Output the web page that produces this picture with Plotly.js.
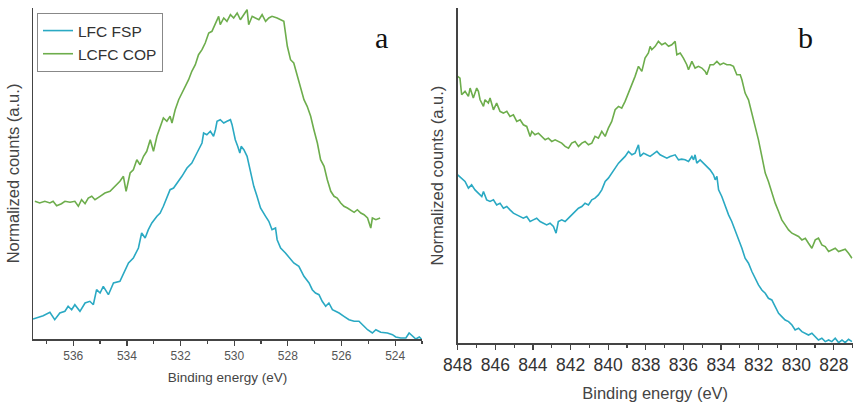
<!DOCTYPE html>
<html>
<head>
<meta charset="utf-8">
<script src="https://cdn.plot.ly/plotly-3.0.1.min.js"></script>
<style>html,body{margin:0;padding:0;background:#fff;}#chart{width:853px;height:405px;}</style>
</head>
<body>
<div id="chart"></div>
<script>
// Panel a: O 1s region (binding energy, eV) and normalized counts (a.u.)
const aFspEnergy = [537.50,537.12,536.87,536.69,536.50,536.31,536.19,536.06,535.94,535.75,535.56,535.38,535.25,535.13,535.00,534.88,534.69,534.50,534.26,534.07,533.94,533.76,533.57,533.45,533.32,533.20,533.07,532.88,532.76,532.64,532.51,532.39,532.26,532.07,531.95,531.76,531.58,531.39,531.20,531.14,531.02,530.89,530.77,530.70,530.64,530.52,530.39,530.27,530.14,530.08,529.96,529.87,529.79,529.74,529.64,529.52,529.40,529.27,529.15,529.02,528.83,528.71,528.59,528.46,528.40,528.27,528.09,527.90,527.78,527.59,527.40,527.21,527.09,526.97,526.84,526.72,526.59,526.47,526.34,526.22,526.09,525.91,525.72,525.53,525.35,525.16,525.03,524.85,524.72,524.54,524.29,524.10,523.98,523.79,523.60,523.48,523.35,523.23,523.10,523.02];
const aFspCounts = [20.0,23.3,26.7,19.3,26.0,27.7,32.7,29.3,34.3,27.7,36.0,37.7,34.3,49.3,46.0,52.7,44.3,56.0,57.7,69.3,76.0,81.0,91.0,106.0,101.0,109.3,116.0,122.7,126.0,132.7,141.0,149.3,151.0,157.7,162.7,171.0,176.0,186.0,196.0,206.0,204.3,207.7,202.7,209.3,217.7,219.3,216.0,217.7,219.3,214.3,199.3,192.7,186.0,192.7,189.3,182.7,169.3,152.7,142.7,131.0,122.7,117.7,109.3,111.0,99.3,91.0,86.0,79.3,76.0,72.7,62.7,56.0,49.3,46.0,44.3,37.7,32.7,36.0,29.3,27.7,26.0,22.7,19.3,17.7,17.7,12.7,9.3,6.0,9.3,6.7,6.0,4.3,2.0,1.0,1.0,6.0,2.7,0.0,2.0,0.0];

const aCopEnergy = [537.43,537.25,537.06,536.87,536.75,536.62,536.44,536.31,536.12,535.94,535.81,535.69,535.56,535.44,535.31,535.19,535.00,534.82,534.63,534.44,534.26,534.13,534.03,533.88,533.76,533.63,533.51,533.38,533.26,533.13,533.01,532.88,532.76,532.64,532.51,532.39,532.32,532.20,532.07,531.95,531.83,531.70,531.58,531.45,531.33,531.20,531.08,530.95,530.83,530.70,530.58,530.52,530.39,530.27,530.14,530.02,529.89,529.77,529.64,529.52,529.46,529.33,529.21,529.08,528.96,528.83,528.71,528.59,528.40,528.27,528.15,528.02,527.90,527.78,527.65,527.53,527.40,527.28,527.15,527.03,526.90,526.78,526.65,526.53,526.40,526.28,526.16,526.03,525.91,525.78,525.66,525.53,525.41,525.28,525.16,525.03,524.91,524.85,524.72,524.56];
const aCopCounts = [137.7,136.0,137.7,136.0,137.7,133.3,135.3,137.7,136.7,137.7,132.7,139.3,135.3,141.0,142.7,139.3,142.7,146.0,147.7,152.7,157.7,162.7,147.7,166.0,169.3,179.3,174.3,182.7,187.7,199.3,187.7,202.7,211.0,221.0,217.7,222.7,216.0,229.3,239.3,246.0,251.0,259.3,267.7,274.3,284.3,289.3,296.0,306.0,307.7,316.0,322.7,314.3,321.0,317.7,324.3,321.0,326.0,319.3,324.3,329.3,314.3,322.7,321.0,319.3,324.3,317.7,321.0,322.7,321.0,319.3,317.7,292.7,279.3,276.0,262.7,252.7,239.3,232.7,222.7,209.3,196.0,179.3,172.7,159.3,147.7,142.7,141.0,136.0,132.7,131.0,129.3,126.7,129.3,126.0,124.3,121.0,111.0,121.0,119.3,121.0];

// Panel b: Co/La 3d region
const bCopEnergy = [848.00,847.88,847.79,847.61,847.43,847.34,847.17,846.99,846.90,846.81,846.63,846.55,846.37,846.28,846.10,845.93,845.75,845.57,845.39,845.22,845.04,844.86,844.68,844.51,844.33,844.15,844.06,843.89,843.71,843.53,843.35,843.18,843.00,842.82,842.65,842.47,842.29,842.11,841.94,841.76,841.58,841.40,841.23,841.05,840.87,840.70,840.52,840.34,840.16,839.99,839.81,839.63,839.45,839.28,839.10,838.92,838.74,838.57,838.39,838.21,838.04,837.86,837.77,837.68,837.50,837.33,837.15,836.97,836.79,836.62,836.44,836.35,836.17,836.00,835.82,835.73,835.55,835.38,835.20,835.02,834.84,834.76,834.58,834.40,834.22,834.05,833.87,833.69,833.51,833.34,833.16,832.98,832.89,832.72,832.54,832.36,832.18,832.01,831.83,831.65,831.48,831.30,831.12,830.94,830.77,830.59,830.41,830.23,830.06,829.88,829.70,829.52,829.35,829.17,828.99,828.82,828.64,828.46,828.28,828.11,827.93,827.75,827.57,827.40,827.22,827.04];
const bCopCounts = [266.7,265.0,248.3,251.7,246.7,255.0,245.0,255.0,251.7,243.3,236.7,243.3,240.0,245.0,233.3,240.0,231.7,230.0,231.7,226.7,228.3,221.7,223.3,218.3,216.7,206.7,211.7,208.3,210.0,206.7,203.3,205.0,201.7,203.3,201.7,200.0,196.7,195.0,200.0,201.7,196.7,200.0,201.7,198.3,200.0,206.7,205.0,211.7,206.7,215.0,221.7,233.3,236.7,235.0,241.7,250.0,258.3,266.7,276.7,271.7,285.0,290.0,296.7,293.3,296.7,301.7,298.3,300.0,296.7,298.3,301.7,288.3,290.0,285.0,278.3,273.3,281.7,275.0,276.7,275.0,271.7,268.3,278.3,278.3,281.7,278.3,280.0,278.3,278.3,276.7,268.3,268.3,263.3,250.0,243.3,230.0,216.7,203.3,186.7,170.0,161.7,150.0,140.0,131.7,123.3,118.3,113.3,110.0,108.3,106.7,103.3,105.0,100.0,95.0,103.3,105.0,98.3,96.7,91.7,93.3,95.0,91.7,93.3,94.0,90.0,85.0];

const bFspEnergy = [848.00,847.79,847.61,847.43,847.26,847.08,846.90,846.72,846.63,846.46,846.28,846.10,845.93,845.75,845.57,845.39,845.22,845.04,844.86,844.68,844.51,844.33,844.15,843.98,843.80,843.62,843.44,843.27,843.09,842.91,842.77,842.65,842.47,842.29,842.11,841.94,841.76,841.58,841.40,841.23,841.05,840.87,840.70,840.52,840.34,840.16,839.99,839.81,839.63,839.45,839.28,839.10,838.92,838.74,838.57,838.39,838.30,838.12,837.95,837.77,837.59,837.41,837.24,837.06,836.88,836.71,836.44,836.26,836.09,835.91,835.73,835.55,835.46,835.38,835.29,835.11,834.93,834.76,834.58,834.40,834.31,834.22,834.13,833.96,833.78,833.60,833.43,833.25,833.07,832.89,832.72,832.54,832.36,832.18,832.01,831.83,831.65,831.48,831.30,831.12,830.94,830.77,830.59,830.41,830.23,830.06,829.88,829.70,829.52,829.35,829.17,828.99,828.82,828.64,828.46,828.28,828.11,827.93,827.75,827.57,827.40,827.22,827.04];
const bFspCounts = [168.3,165.0,161.7,155.0,158.3,153.3,150.0,146.7,151.7,143.3,141.7,143.3,138.3,140.0,135.0,136.7,133.3,130.0,128.3,126.7,125.0,126.7,121.7,123.3,125.0,121.7,120.0,118.3,120.0,116.7,110.0,121.7,123.3,121.7,125.0,128.3,131.7,135.0,136.7,140.0,138.3,143.3,145.0,148.3,153.3,161.7,165.0,170.0,175.0,180.0,183.3,186.7,191.7,188.3,190.0,198.3,186.7,190.0,188.3,186.7,189.3,191.7,188.3,186.7,185.0,186.7,188.3,183.3,184.0,183.3,181.7,186.7,183.3,188.3,180.0,183.3,180.0,176.7,173.3,168.3,163.3,166.7,153.3,146.7,136.7,128.3,121.7,113.3,103.3,95.0,85.0,80.0,71.7,65.0,58.3,53.3,50.0,45.0,43.3,36.7,30.0,26.7,23.3,21.7,18.3,13.3,15.0,11.7,10.0,8.3,10.0,6.7,3.3,5.0,1.7,3.3,1.7,5.0,0.7,3.3,0.7,4.0,1.7];

const seriesNames = ['LFC FSP', 'LCFC COP'];
const fspColor = '#2aa9c3';
const copColor = '#6dad4c';
const panelLabels = ['a', 'b'];
const xTitle = 'Binding energy (eV)';
const yTitle = 'Normalized counts (a.u.)';

const W = 853, H = 405;
const fx = px => px / W;
const fy = py => (H - py) / H;

const traces = [
  {x: aFspEnergy, y: aFspCounts, name: seriesNames[0], type: 'scatter', mode: 'lines',
   line: {color: fspColor, width: 1.6}, xaxis: 'x', yaxis: 'y', legendgroup: 'fsp'},
  {x: aCopEnergy, y: aCopCounts, name: seriesNames[1], type: 'scatter', mode: 'lines',
   line: {color: copColor, width: 1.6}, xaxis: 'x', yaxis: 'y', legendgroup: 'cop'},
  {x: bCopEnergy, y: bCopCounts, name: seriesNames[1], type: 'scatter', mode: 'lines',
   line: {color: copColor, width: 1.6}, xaxis: 'x2', yaxis: 'y2', showlegend: false, legendgroup: 'cop'},
  {x: bFspEnergy, y: bFspCounts, name: seriesNames[0], type: 'scatter', mode: 'lines',
   line: {color: fspColor, width: 1.6}, xaxis: 'x2', yaxis: 'y2', showlegend: false, legendgroup: 'fsp'}
];

const font = 'Liberation Sans, Arial, sans-serif';
const axisCommon = {
  showgrid: false, zeroline: false, showline: true, linecolor: '#444', linewidth: 1.5,
  ticks: 'outside', tickcolor: '#444', tickwidth: 1.2, ticklen: 5, dtick: 2, tick0: 0,
  minor: {ticks: 'outside', dtick: 1, tick0: 0, ticklen: 3, tickcolor: '#444', tickwidth: 1.2, showgrid: false}
};
const yCommon = {
  showgrid: false, zeroline: false, showline: true, linecolor: '#444', linewidth: 1.5,
  ticks: '', showticklabels: false, fixedrange: true
};

const layout = {
  width: W, height: H,
  margin: {l: 0, r: 0, t: 0, b: 0},
  paper_bgcolor: '#fff', plot_bgcolor: '#fff',
  font: {family: font, color: '#444'},
  showlegend: true,
  legend: {x: fx(37), y: fy(13), xanchor: 'left', yanchor: 'top',
           bordercolor: '#888', borderwidth: 1, bgcolor: '#fff',
           font: {family: font, size: 15.5, color: '#333'}, tracegroupgap: 0},
  xaxis: Object.assign({}, axisCommon, {
    domain: [fx(33), fx(422)], range: [537.5, 523.0], anchor: 'y',
    tickfont: {size: 12, color: '#555'},
    title: {text: xTitle, font: {size: 13.5, color: '#444'}, standoff: 10}
  }),
  yaxis: Object.assign({}, yCommon, {
    domain: [fy(339), fy(8)], range: [0, 331], anchor: 'x',
    title: {text: yTitle, font: {size: 16.5, color: '#444'}, standoff: 7}
  }),
  xaxis2: Object.assign({}, axisCommon, {
    domain: [fx(457.7), fx(852.7)], range: [848, 827], anchor: 'y2',
    tickfont: {size: 17.5, color: '#333'},
    title: {text: xTitle, font: {size: 16.5, color: '#444'}, standoff: 13}
  }),
  yaxis2: Object.assign({}, yCommon, {
    domain: [fy(343.3), fy(8)], range: [0, 335], anchor: 'x2',
    title: {text: yTitle, font: {size: 16.5, color: '#444'}, standoff: 8}
  }),
  annotations: [
    {text: panelLabels[0], x: fx(381), y: fy(38), xref: 'paper', yref: 'paper', showarrow: false,
     xanchor: 'center', yanchor: 'middle', font: {family: 'Liberation Serif, Times New Roman, serif', size: 30, color: '#111'}},
    {text: panelLabels[1], x: fx(805), y: fy(38), xref: 'paper', yref: 'paper', showarrow: false,
     xanchor: 'center', yanchor: 'middle', font: {family: 'Liberation Serif, Times New Roman, serif', size: 30, color: '#111'}}
  ]
};

Plotly.newPlot('chart', traces, layout, {staticPlot: true, displayModeBar: false});
</script>
</body>
</html>
